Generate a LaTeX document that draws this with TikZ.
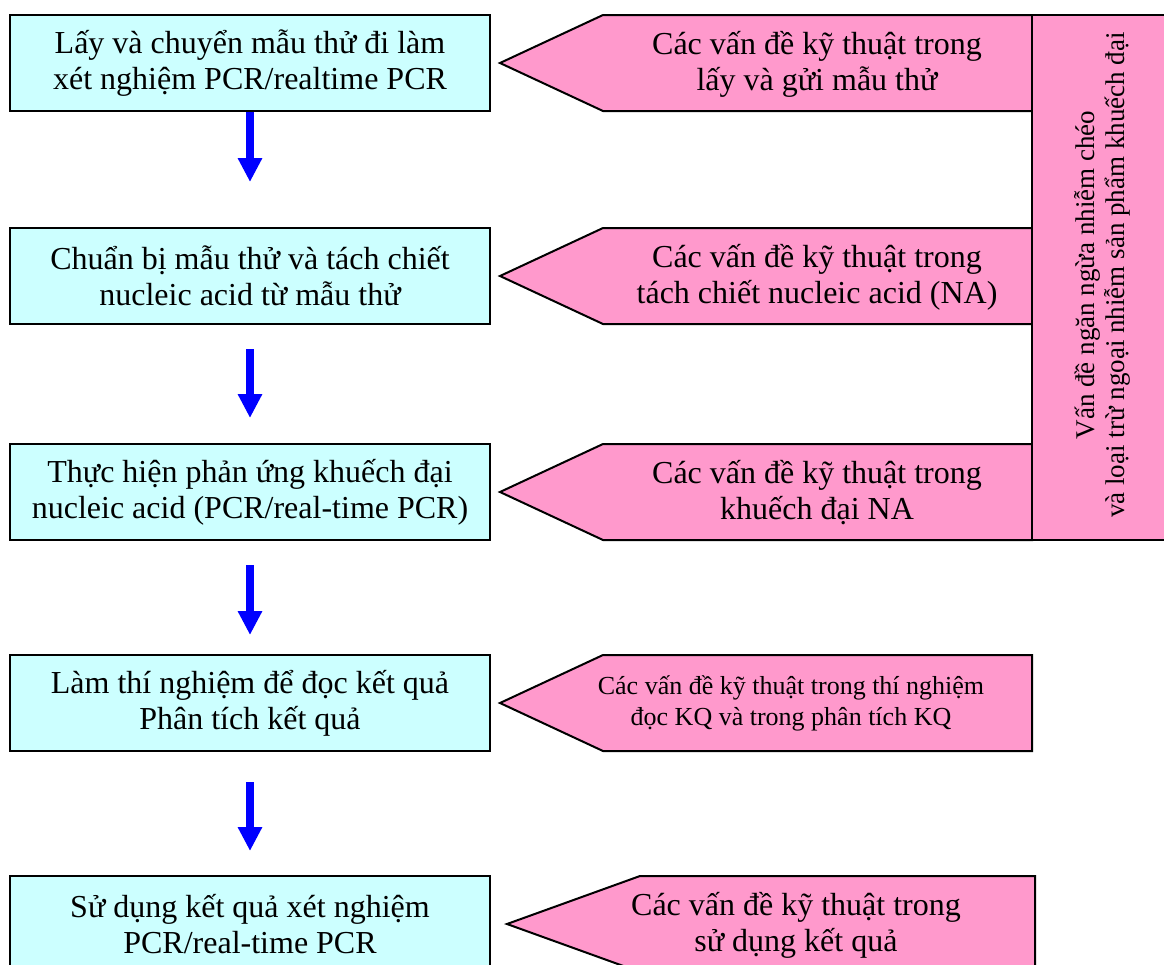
\documentclass[tikz,border=0pt]{standalone}
\usepackage{fontspec}
\setmainfont{Liberation Serif}
\usetikzlibrary{arrows.meta}
\definecolor{boxcolor}{RGB}{204,255,255}
\definecolor{issuecolor}{RGB}{255,153,204}

\begin{document}
\begin{tikzpicture}[x=0.5pt, y=-0.5pt,
    stepbox/.style={draw, line width=1pt, fill=boxcolor, minimum width=240pt, minimum height=48pt, inner sep=0pt, align=center, font=\fontsize{16}{18}\selectfont},
    issueshape/.style={draw, line width=1pt, fill=issuecolor},
    issuetext/.style={align=center, inner sep=0pt, font=\fontsize{16}{18}\selectfont},
    flow/.style={draw=blue, line width=4pt, -{Triangle[width=11.5pt, length=12pt]}}]

    \useasboundingbox (0,0) rectangle (1164,965);

    % left column
    \node [stepbox] (step1) at (250,63) {Lấy và chuyển mẫu thử đi làm\\xét nghiệm PCR/realtime PCR};
    \node [stepbox] (step2) at (250,276) {Chuẩn bị mẫu thử và tách chiết\\nucleic acid từ mẫu thử};
    \node [stepbox] (step3) at (250,492) {Thực hiện phản ứng khuếch đại\\nucleic acid (PCR/real-time PCR)};
    \node [stepbox] (step4) at (250,703) {Làm thí nghiệm để đọc kết quả\\Phân tích kết quả};
    \node [stepbox] (step5) at (250,924) {Sử dụng kết quả xét nghiệm\\PCR/real-time PCR};

    \draw [flow, shorten >=22.5pt] (step1.south) -- (step2.north);
    \draw [flow, shorten <=12pt, shorten >=12.5pt] (step2.south) -- (step3.north);
    \draw [flow, shorten <=12pt, shorten >=9.5pt] (step3.south) -- (step4.north);
    \draw [flow, shorten <=15pt, shorten >=12pt] (step4.south) -- (step5.north);

    % pointed boxes
    \draw [issueshape] (1032,15) -- (603,15) -- (500,63) -- (603,111) -- (1032,111) -- cycle;
    \draw [issueshape] (1032,228) -- (603,228) -- (500,276) -- (603,324) -- (1032,324) -- cycle;
    \draw [issueshape] (1032,444) -- (603,444) -- (500,492) -- (603,540) -- (1032,540) -- cycle;
    \draw [issueshape] (1032,655) -- (603,655) -- (500,703) -- (603,751) -- (1032,751) -- cycle;
    \draw [issueshape] (1035,876) -- (640,876) -- (507,924) -- (640,972) -- (1035,972) -- cycle;

    % \draw (1032,15) rectangle (1164,540);
    \draw [issueshape] (1032,15) rectangle (1172,540);

    \node [issuetext] (issue1) at (817,64) {Các vấn đề kỹ thuật trong\\lấy và gửi mẫu thử};
    \node [issuetext] (issue2) at (817,277) {Các vấn đề kỹ thuật trong\\tách chiết nucleic acid (NA)};
    \node [issuetext] (issue3) at (817,493) {Các vấn đề kỹ thuật trong\\khuếch đại NA};
    \node [issuetext, font=\fontsize{13}{15.5}\selectfont] (issue4) at (791,703) {Các vấn đề kỹ thuật trong thí nghiệm\\đọc KQ và trong phân tích KQ};
    \node [issuetext] (issue5) at (796,925) {Các vấn đề kỹ thuật trong\\sử dụng kết quả};

    \node [issuetext, rotate=90, font=\fontsize{13.5}{15}\selectfont] (crossissue) at (1102,275) {Vấn đề ngăn ngừa nhiễm chéo\\và loại trừ ngoại nhiễm sản phẩm khuếch đại};

\end{tikzpicture}
\end{document}
